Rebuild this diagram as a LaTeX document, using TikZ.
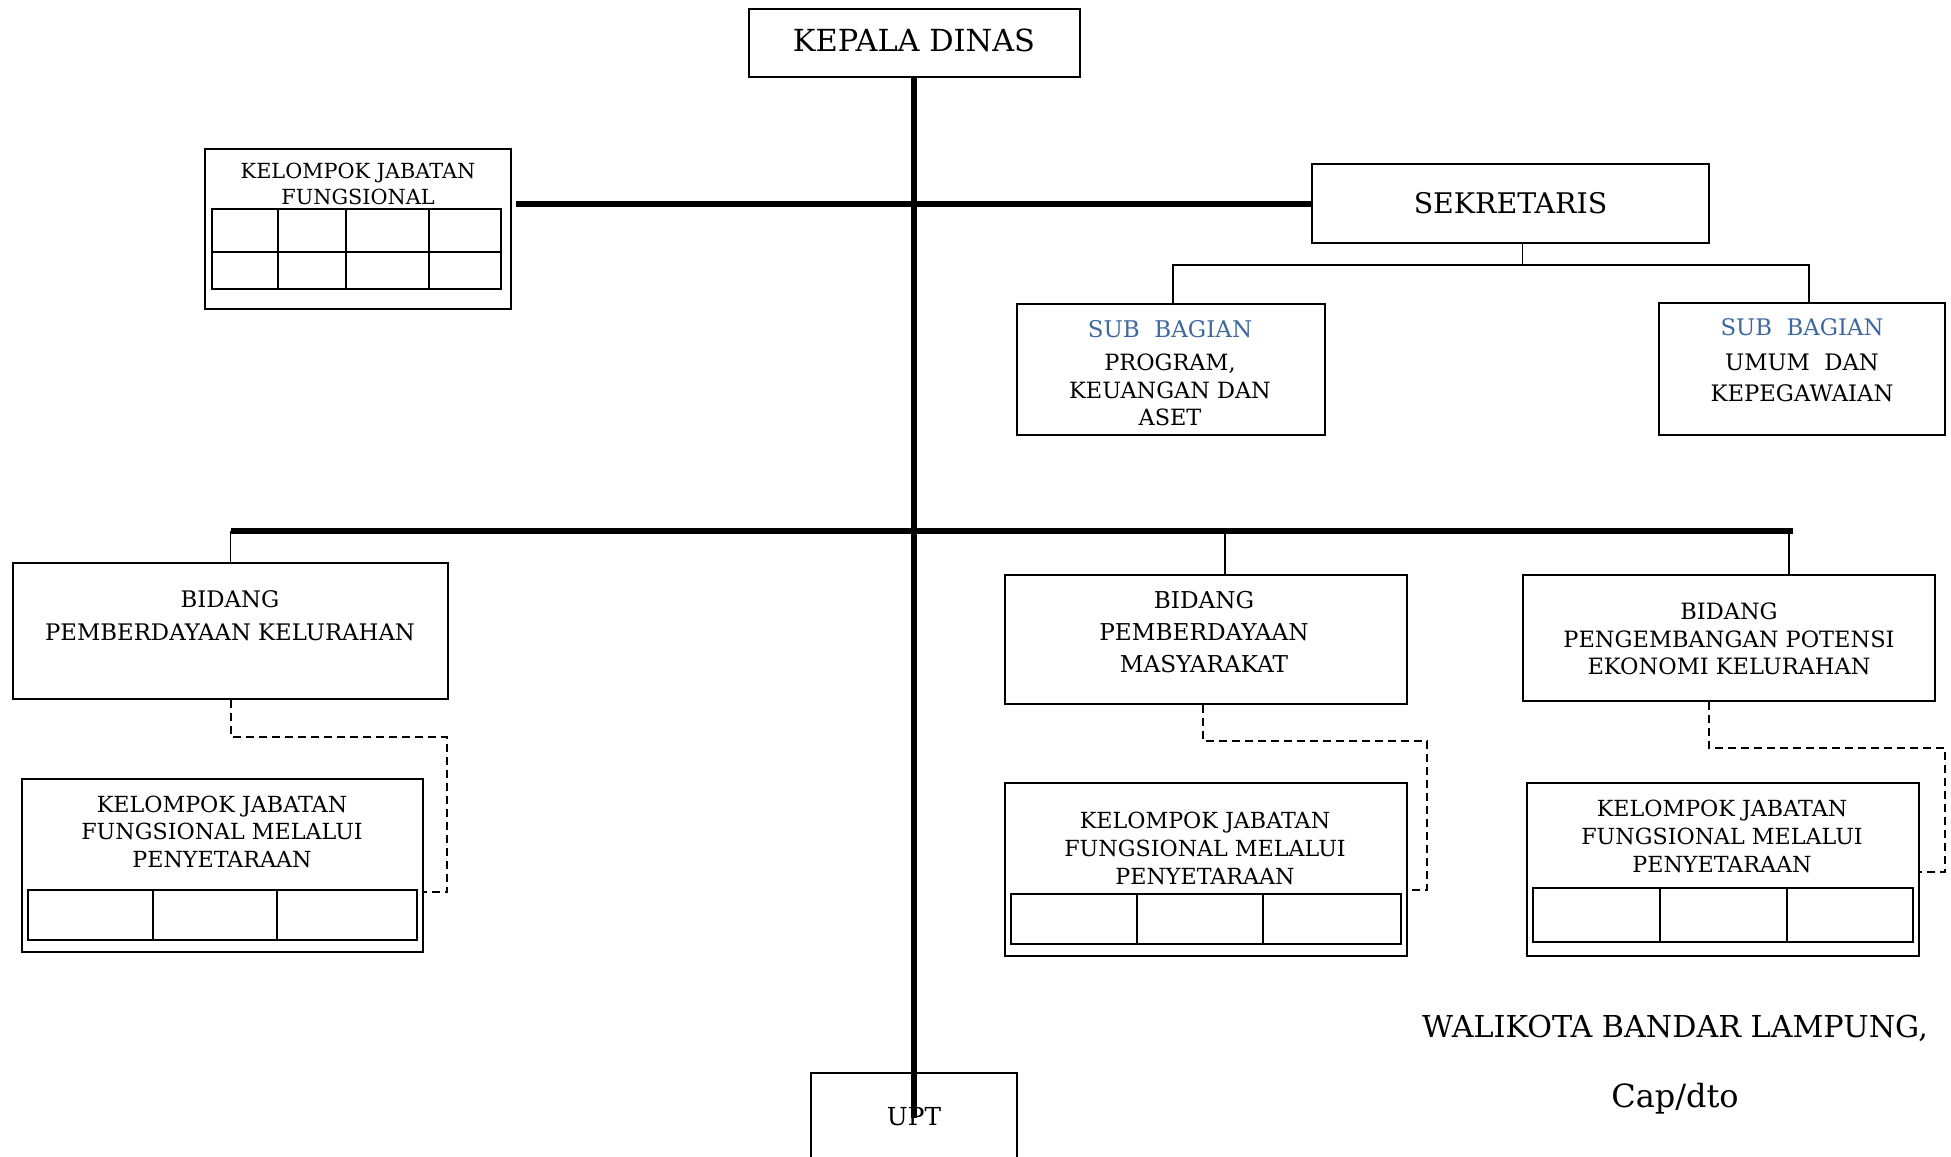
\documentclass[tikz,border=0pt]{standalone}
\usepackage{fontspec}
\setmainfont{DejaVu Serif}
\definecolor{subblue}{RGB}{62,104,160}
\begin{document}
\begin{tikzpicture}[x=0.5pt,y=-0.5pt,
  box/.style={draw, line width=1pt, inner sep=0pt, fill=white},
  cell/.style={line width=1.2pt},
  thickln/.style={line width=3pt},
  thinln/.style={line width=0.9pt},
  dashln/.style={line width=1pt, dash pattern=on 4pt off 2.5pt},
  txt/.style={align=center, inner sep=0pt},
]
\useasboundingbox (0,0) rectangle (1951,1157);
\fill[white] (0,0) rectangle (1951,1157);
\clip (0,0) rectangle (1951,1157);

% boxes
\node[box, minimum width=165.5pt, minimum height=34pt] (kd) at (914,43) {};
\node[box, minimum width=153pt, minimum height=80pt] (kjf) at (358,229) {};
\node[box, minimum width=198.5pt, minimum height=39.5pt, font=\fontsize{14.2}{17}\selectfont] (sek) at (1510.5,203.5) {SEKRETARIS};
\node[box, minimum width=154pt, minimum height=65.5pt] (sbp) at (1171,369.5) {};
\node[box, minimum width=143pt, minimum height=66pt] (sbu) at (1802,369) {};
\node[box, minimum width=217.5pt, minimum height=68pt] (bpk) at (230.5,631) {};
\node[box, minimum width=201pt, minimum height=64.5pt] (bpm) at (1206,639.5) {};
\node[box, minimum width=206pt, minimum height=63pt] (bpe) at (1729,638) {};
\node[box, minimum width=200.5pt, minimum height=86.5pt] (kj1) at (222.5,865.5) {};
\node[box, minimum width=201pt, minimum height=86.5pt] (kj2) at (1206,869.5) {};
\node[box, minimum width=196pt, minimum height=86.5pt] (kj3) at (1723,869.5) {};
\node[box, minimum width=103pt, minimum height=45pt] (upt) at (914,1118) {};

% connectors
\coordinate (bus) at (916,531);
\draw[thickln] (kd.south) -- (kd.south |- upt.center);
\draw[thickln] ([xshift=2pt]kjf.east |- sek.west) -- (sek.west);
\draw[thickln] (bpk.north |- bus) -- ([xshift=32pt]bpe.north |- bus);
\draw[thinln] (bpk.north) -- (bpk.north |- bus);
\draw[thinln] ([xshift=9.5pt]bpm.north) -- ([xshift=9.5pt]bpm.north |- bus);
\draw[thinln] ([xshift=30pt]bpe.north) -- ([xshift=30pt]bpe.north |- bus);

\draw[thinln] ([xshift=6pt]sek.south) -- ++(0,21) coordinate (sj);
\draw[thinln] ([xshift=1pt]sbp.north) |- (sj) -| ([xshift=3.5pt]sbu.north);

\coordinate (d1a) at (447,737); \coordinate (d1b) at (447,892);
\draw[dashln] (bpk.south) |- (d1a) -- (d1b) -- (kj1.east |- d1b);
\coordinate (d2a) at (1427,741); \coordinate (d2b) at (1427,890);
\draw[dashln] ([xshift=-1.5pt]bpm.south) |- (d2a) -- (d2b) -- (kj2.east |- d2b);
\coordinate (d3a) at (1945,748); \coordinate (d3b) at (1945,872);
\draw[dashln] ([xshift=-10pt]bpe.south) |- (d3a) -- (d3b) -- (kj3.east |- d3b);

% tables
\draw[cell] (212,209) rectangle (501,289);
\draw[cell] (212,252) -- (501,252);
\foreach \xx in {278,346,429} \draw[cell] (\xx,209) -- (\xx,289);
\draw[cell] (28,890) rectangle (417,940);
\foreach \xx in {153,277} \draw[cell] (\xx,890) -- (\xx,940);
\draw[cell] (1011,894) rectangle (1401,944);
\foreach \xx in {1137,1263} \draw[cell] (\xx,894) -- (\xx,944);
\draw[cell] (1533,888) rectangle (1913,942);
\foreach \xx in {1660,1787} \draw[cell] (\xx,888) -- (\xx,942);

% texts
\node[txt, font=\fontsize{15.2}{18}\selectfont] (kdt) at (914,40) {KEPALA DINAS};
\node[txt, font=\fontsize{10.4}{13}\selectfont] (kjft) at (358,184) {KELOMPOK JABATAN\\FUNGSIONAL};
\node[txt, text=subblue, font=\fontsize{11.5}{13}\selectfont] (sbpa) at (1170,329.5) {SUB\ \ BAGIAN};
\begin{scope}
\clip (sbp.north west) rectangle (1325,428);
\node[txt, font=\fontsize{11.2}{13.6}\selectfont] (sbpb) at (1170,390) {PROGRAM,\\KEUANGAN DAN\\ASET};
\end{scope}
\node[txt, text=subblue, font=\fontsize{11.4}{13}\selectfont] (sbua) at (1802,327) {SUB\ \ BAGIAN};
\node[txt, font=\fontsize{11.35}{15.5}\selectfont] (sbub) at (1802,377.5) {UMUM\ \ DAN\\KEPEGAWAIAN};
\node[txt, font=\fontsize{11.4}{16.5}\selectfont] (bpkt) at (230,616) {BIDANG\\PEMBERDAYAAN KELURAHAN};
\node[txt, font=\fontsize{11.6}{16}\selectfont] (bpmt) at (1204,632) {BIDANG\\PEMBERDAYAAN\\MASYARAKAT};
\node[txt, font=\fontsize{11.25}{13.8}\selectfont] (bpet) at (1729,639) {BIDANG\\PENGEMBANGAN POTENSI\\EKONOMI KELURAHAN};
\node[txt, font=\fontsize{11.1}{13.75}\selectfont] (kj1t) at (222,831.5) {KELOMPOK JABATAN\\FUNGSIONAL MELALUI\\PENYETARAAN};
\node[txt, font=\fontsize{11.1}{14}\selectfont] (kj2t) at (1205,848) {KELOMPOK JABATAN\\FUNGSIONAL MELALUI\\PENYETARAAN};
\node[txt, font=\fontsize{11.1}{14}\selectfont] (kj3t) at (1722,836) {KELOMPOK JABATAN\\FUNGSIONAL MELALUI\\PENYETARAAN};
\node[txt, font=\fontsize{12.4}{14}\selectfont] (uptt) at (914,1117) {UPT};
\node[txt, font=\fontsize{15.1}{18}\selectfont] (wali) at (1675,1028) {WALIKOTA BANDAR LAMPUNG,};
\node[txt, font=\fontsize{16}{19}\selectfont] (cap) at (1675,1099) {Cap/dto};
\end{tikzpicture}
\end{document}
